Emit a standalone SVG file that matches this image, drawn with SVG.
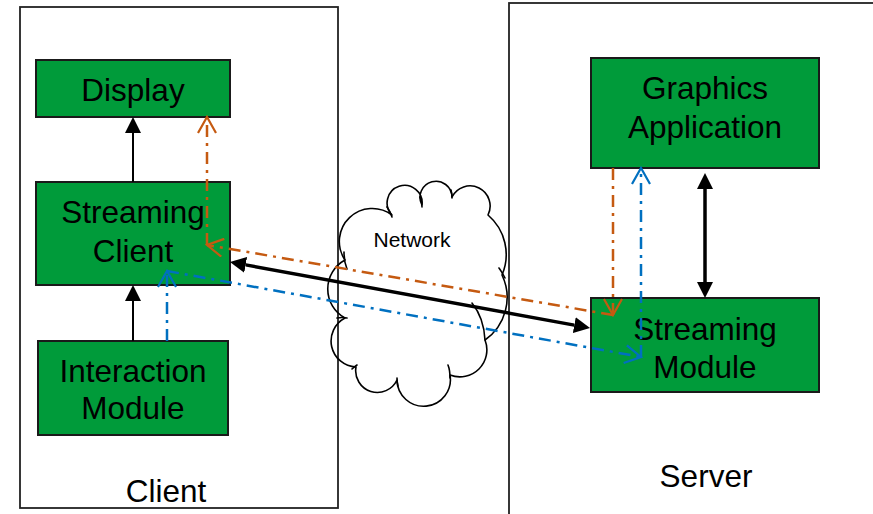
<svg xmlns="http://www.w3.org/2000/svg" width="873" height="514" viewBox="0 0 873 514">
  <style>
    .container { fill: #ffffff; stroke: #222222; stroke-width: 1.8; }
    .box { fill: #009B3A; stroke: #1a1a1a; stroke-width: 2; }
    .label { font-family: "Liberation Sans", Arial, sans-serif; font-size: 31.5px; fill: #000000; text-anchor: middle; }
    .small { font-size: 21px; }
    .cloud { fill: none; stroke: #000000; stroke-width: 1.6; stroke-linejoin: round; stroke-linecap: round; }
    .solid { fill: none; stroke: #000000; stroke-width: 2; }
    .thick { fill: none; stroke: #000000; stroke-width: 3.5; }
    .flow-orange { fill: none; stroke: #C55A11; stroke-width: 2.5; stroke-dasharray: 12 6 3 6; }
    .flow-blue { fill: none; stroke: #0070C0; stroke-width: 2.5; stroke-dasharray: 12 6 3 6; }
  </style>
  <defs>
    <!-- filled head; base sits on the path end, tip extends 16px beyond -->
    <marker id="solid-head" viewBox="0 0 16 16" markerWidth="16" markerHeight="16" refX="0" refY="8" orient="auto-start-reverse" markerUnits="userSpaceOnUse">
      <path d="M0,0 L16,8 L0,16 z" fill="#000000"/>
    </marker>
    <!-- open V heads for the data-flow lines; tip sits on the path end -->
    <marker id="open-orange" viewBox="-1 -1 19 20" markerWidth="19" markerHeight="20" refX="16" refY="9" orient="auto" markerUnits="userSpaceOnUse">
      <path d="M0,0 L16,9 L0,18" fill="none" stroke="#C55A11" stroke-width="2.2"/>
    </marker>
    <marker id="open-blue" viewBox="-1 -1 19 20" markerWidth="19" markerHeight="20" refX="16" refY="9" orient="auto" markerUnits="userSpaceOnUse">
      <path d="M0,0 L16,9 L0,18" fill="none" stroke="#0070C0" stroke-width="2.2"/>
    </marker>
  </defs>

  <rect width="873" height="514" fill="#ffffff"/>

  <!-- containers -->
  <g id="client">
    <rect class="container" x="20" y="7" width="318" height="501"/>
    <text class="label" x="166" y="502">Client</text>
  </g>
  <g id="server">
    <rect class="container" x="509" y="3" width="380" height="530"/>
    <text class="label" x="706" y="487">Server</text>
  </g>

  <!-- network cloud (outline only, lines show through) -->
  <g id="network">
    <path class="cloud" d="M345,260 A33,33 0 0,1 392,215 A17.5,17.5 0 1,1 422,205 A16,16 0 1,1 452,197 A20,20 0 1,1 488,215 A52,52 0 0,1 502,275 A52,52 0 0,1 485,340 A27,27 0 0,1 450,375 A26.7,26.7 0 1,1 397,380 A21.7,21.7 0 0,1 356,367 A26,26 0 0,1 345,318 A33,33 0 0,1 345,260 z"/>
    <!-- inner overlap strokes at the cusps -->
    <path class="cloud" d="M344,252 Q344,262 347,269 M387,207 Q390,211 392,217 M420,197 Q422,201 422,207 M451,190 Q452,194 452,198 M499,268 Q502,272 505,278 M472,303 Q484,318 485,340 M448,365 Q450,370 450,378 M397,378 Q397,383 398,386 M357,365 Q354,367 352,369 M337,318 Q342,317 347,318"/>
    <text class="label small" x="412" y="247">Network</text>
  </g>

  <!-- client side -->
  <g id="display">
    <rect class="box" x="36" y="60" width="194" height="57"/>
    <text class="label" x="133" y="101">Display</text>
  </g>
  <g id="streaming-client">
    <rect class="box" x="36" y="182" width="194" height="103"/>
    <text class="label" x="133" y="223">Streaming</text>
    <text class="label" x="133" y="262">Client</text>
  </g>
  <g id="interaction-module">
    <rect class="box" x="38" y="341" width="190" height="94"/>
    <text class="label" x="133" y="382">Interaction</text>
    <text class="label" x="133" y="419">Module</text>
  </g>

  <!-- server side -->
  <g id="graphics-application">
    <rect class="box" x="591" y="58" width="228" height="110"/>
    <text class="label" x="705" y="99">Graphics</text>
    <text class="label" x="705" y="138">Application</text>
  </g>
  <g id="streaming-module">
    <rect class="box" x="591" y="298" width="228" height="94"/>
    <text class="label" x="705" y="340">Streaming</text>
    <text class="label" x="705" y="378">Module</text>
  </g>

  <!-- connectors -->
  <g id="connectors">
    <path class="solid" d="M133,182 L133,133" marker-end="url(#solid-head)"/>
    <path class="solid" d="M133,341 L133,301" marker-end="url(#solid-head)"/>
    <path class="thick" d="M705,189 L705,282" marker-start="url(#solid-head)" marker-end="url(#solid-head)"/>
    <path class="thick" d="M245.7,264.9 L574.3,325.1" marker-start="url(#solid-head)" marker-end="url(#solid-head)"/>

    <path class="flow-orange" d="M613,168 L613,315" marker-end="url(#open-orange)"/>
    <path class="flow-orange" d="M613,315 L207,245" marker-end="url(#open-orange)"/>
    <path class="flow-orange" d="M207,245 L207,117" marker-end="url(#open-orange)"/>

    <path class="flow-blue" d="M167,341 L167,271" marker-end="url(#open-blue)"/>
    <path class="flow-blue" d="M167,271 L641,357" marker-end="url(#open-blue)"/>
    <path class="flow-blue" d="M641,357 L641,168" marker-end="url(#open-blue)"/>
  </g>
</svg>
